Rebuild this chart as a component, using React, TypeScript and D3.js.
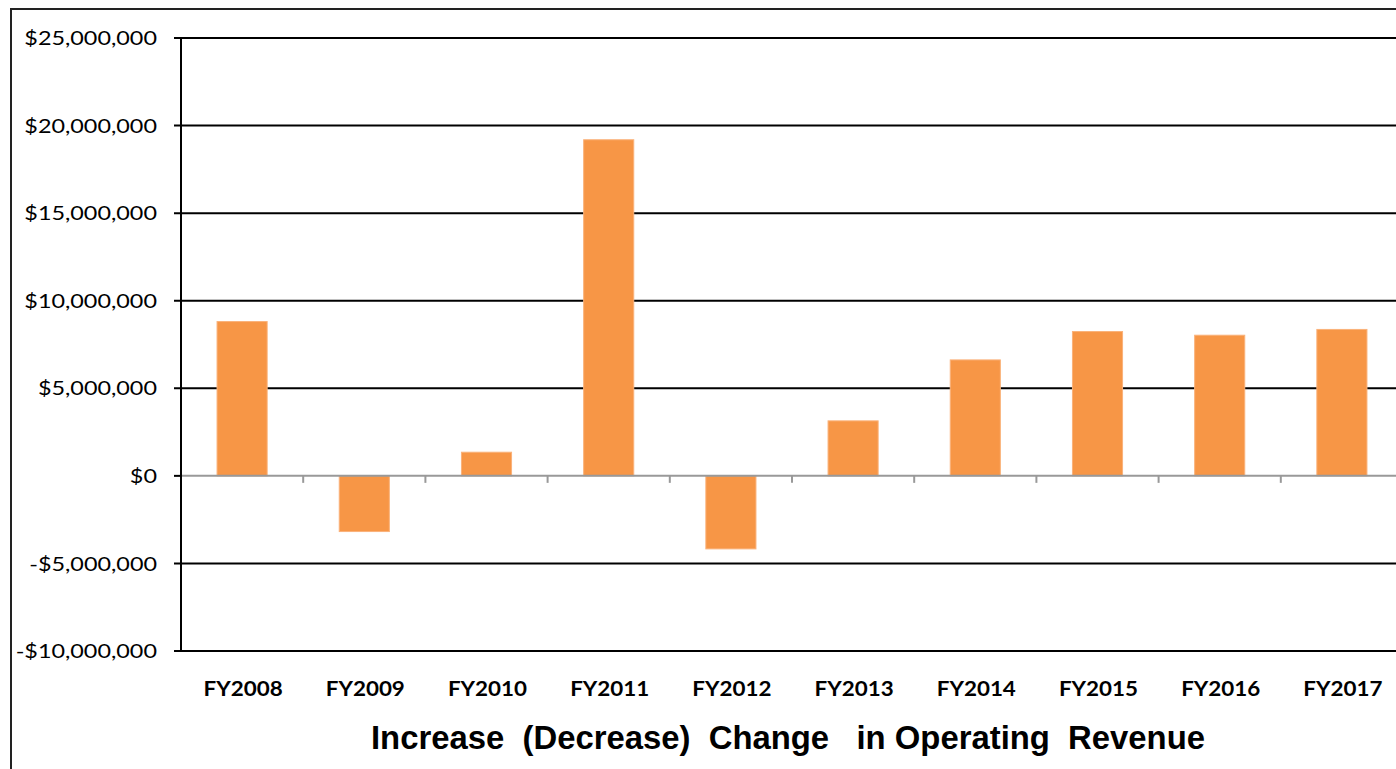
import React from "react";
import * as d3 from "d3";

// Fiscal years and year-over-year change in operating revenue (USD)
const years = ["FY2008", "FY2009", "FY2010", "FY2011", "FY2012", "FY2013", "FY2014", "FY2015", "FY2016", "FY2017"];
const changes = [8810000, -3180000, 1350000, 19190000, -4170000, 3140000, 6620000, 8240000, 8030000, 8360000];
const yTicks = [-10000000, -5000000, 0, 5000000, 10000000, 15000000, 20000000, 25000000];
const title = "Increase  (Decrease)  Change   in Operating  Revenue";

const W = 1396;
const H = 769;
const plot = { left: 181, top: 38, right: 1403, bottom: 651 };

const fmt = (v: number) => (v < 0 ? "-$" : "$") + d3.format(",")(Math.abs(v));

export default function App() {
  const x = d3.scaleBand<string>().domain(years).range([plot.left, plot.right]).paddingInner(0.59).paddingOuter(0.295);
  const band = d3.scaleBand<string>().domain(years).range([plot.left, plot.right]);
  const y = d3.scaleLinear().domain([-10000000, 25000000]).range([plot.bottom, plot.top]);
  const y0 = y(0);

  return (
    <svg width={W} height={H} style={{ position: "absolute", left: 0, top: 0, background: "#fff" }}>
      <rect x={11} y={9} width={W + 20} height={H + 20} fill="#fff" stroke="#222" strokeWidth={2} />

      {/* horizontal gridlines */}
      {yTicks.filter((t) => t !== 0).map((t) => (
        <line key={t} x1={plot.left - 7} x2={W} y1={y(t)} y2={y(t)} stroke="#000" strokeWidth={2} />
      ))}
      <line x1={plot.left - 7} x2={plot.left} y1={y0} y2={y0} stroke="#000" strokeWidth={2} />

      {/* y tick labels */}
      {yTicks.map((t) => (
        <g key={t} transform={`translate(157,${y(t)}) scale(1.17,1)`}>
          <text x={0} y={0} dy="0.36em" textAnchor="end" fontFamily="Lato, 'Open Sans', sans-serif" fontSize={20} fill="#000">
            {fmt(t)}
          </text>
        </g>
      ))}

      {/* bars */}
      {changes.map((v, i) => (
        <rect
          key={years[i]}
          x={x(years[i])!}
          width={x.bandwidth()}
          y={Math.min(y(v), y0)}
          height={Math.abs(y(v) - y0)}
          fill="#F79646"
          stroke="#FAB27A"
          strokeWidth={1}
        />
      ))}

      {/* zero axis with category tick marks */}
      <line x1={plot.left} x2={W} y1={y0} y2={y0} stroke="#999" strokeWidth={2} />
      {years.map((d) => (
        <line key={d} x1={band(d)!} x2={band(d)!} y1={y0} y2={y0 + 7} stroke="#999" strokeWidth={2} />
      ))}

      {/* left axis */}
      <line x1={plot.left} x2={plot.left} y1={plot.top - 1} y2={plot.bottom + 1} stroke="#000" strokeWidth={2} />

      {/* category labels */}
      {years.map((d) => (
        <g key={d} transform={`translate(${band(d)! + band.bandwidth() / 2 + 1},696) scale(1.12,1)`}>
          <text x={0} y={0} textAnchor="middle" fontFamily="Lato, 'Open Sans', sans-serif" fontWeight="bold" fontSize={20} fill="#000">
            {d}
          </text>
        </g>
      ))}

      {/* axis title */}
      <text x={788} y={749} textAnchor="middle" fontFamily="'Liberation Sans', Arial, sans-serif" fontWeight="bold" fontSize={33} fill="#000" style={{ whiteSpace: "pre" }} textLength={834} lengthAdjust="spacingAndGlyphs">
        {title}
      </text>
    </svg>
  );
}
